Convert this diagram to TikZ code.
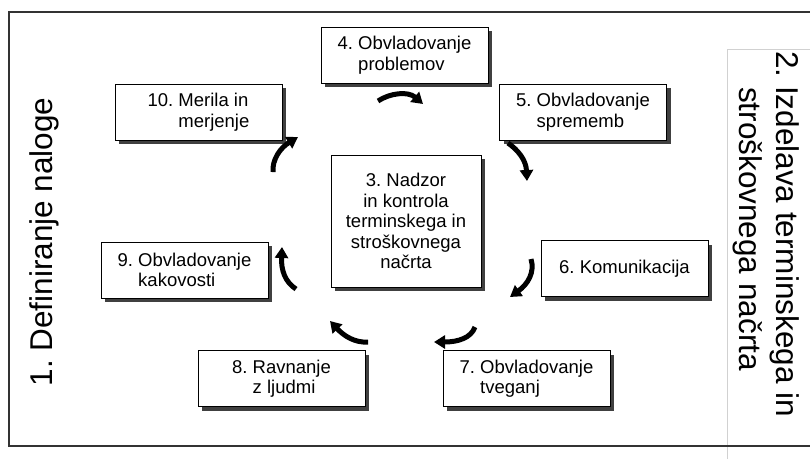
\documentclass[tikz,border=0pt]{standalone}
\usepackage{fontspec}
\setmainfont{Liberation Sans}
\usetikzlibrary{shadows,arrows.meta}

\begin{document}
\frenchspacing
\begin{tikzpicture}[x=1pt,y=-1pt,
  taskbox/.style={draw=black, line width=0.9pt, fill=white, inner sep=0pt,
    minimum width=167pt, minimum height=56pt, align=left,
    font=\fontsize{18.5}{20.5}\selectfont,
    general shadow={shadow xshift=4pt, shadow yshift=-4pt, fill=black!75}},
  cyclearrow/.style={line width=5pt, line cap=butt,
    -{Triangle[length=11pt,width=13pt]}},
  sidetext/.style={font=\fontsize{31.5}{37}\selectfont, inner sep=0pt, anchor=base},
  framerule/.style={line width=1.2pt, draw=black!80},
  lightrule/.style={line width=1pt, draw=black!18}]

\useasboundingbox (0,0) rectangle (810,459);

% outer frame and the separator on the right
\draw[lightrule] (727,459) -- (727,49) -- (810,49);
\draw[framerule] (810,12) -- (9,12) -- (9,446) -- (810,446);

% phase labels at the sides
\node[sidetext, rotate=90] (t1) at (52,242) {1. Definiranje naloge};
\node[sidetext, rotate=-90] (t2a) at (776,234) {2. Izdelava terminskega in};
\node[sidetext, rotate=-90] (t2b) at (739,229) {stroškovnega načrta};

% the task boxes
\node[taskbox] (b4)  at (404.5,55)  {4. Obvladovanje\\\phantom{4.\ }problemov};
\node[taskbox] (b10) at (198.5,112) {10. Merila in\\\phantom{10.\ }merjenje};
\node[taskbox] (b5)  at (583,112)   {5. Obvladovanje\\\phantom{5.\ }sprememb};
\node[taskbox, minimum width=150pt, minimum height=132pt, align=center] (b3) at (406,221)
  {3. Nadzor\\in kontrola\\terminskega in\\stroškovnega\\načrta};
\node[taskbox] (b9)  at (184.5,270) {9. Obvladovanje\\\phantom{9.\ }kakovosti};
\node[taskbox, align=center] (b6) at (624.5,268.5) {6. Komunikacija};
\node[taskbox] (b8)  at (281.5,378.5) {8. Ravnanje\\\phantom{8.\ }z ljudmi};
\node[taskbox] (b7)  at (526.5,378.5) {7. Obvladovanje\\\phantom{7.\ }tveganj};

% curved arrows running round the cycle
\coordinate (a1s) at (378,101); \coordinate (a1e) at (423,104);
\coordinate (a2s) at (508,143); \coordinate (a2e) at (527,181);
\coordinate (a3s) at (531,259); \coordinate (a3e) at (510,297);
\coordinate (a4s) at (475,327); \coordinate (a4e) at (434,342);
\coordinate (a5s) at (368,342); \coordinate (a5e) at (330,321);
\coordinate (a6s) at (296,289); \coordinate (a6e) at (282,247);
\coordinate (a7s) at (273,172); \coordinate (a7e) at (298,137);

\draw[cyclearrow] (a1s) .. controls (390,93) and (408,91) .. (a1e);
\draw[cyclearrow] (a2s) .. controls (518,150) and (526,160) .. (a2e);
\draw[cyclearrow] (a3s) .. controls (535,272) and (528,284) .. (a3e);
\draw[cyclearrow] (a4s) .. controls (471,338) and (458,342) .. (a4e);
\draw[cyclearrow] (a5s) .. controls (355,343) and (344,336) .. (a5e);
\draw[cyclearrow] (a6s) .. controls (285,282) and (281,270) .. (a6e);
\draw[cyclearrow] (a7s) .. controls (272,160) and (280,148) .. (a7e);

\end{tikzpicture}
\end{document}
